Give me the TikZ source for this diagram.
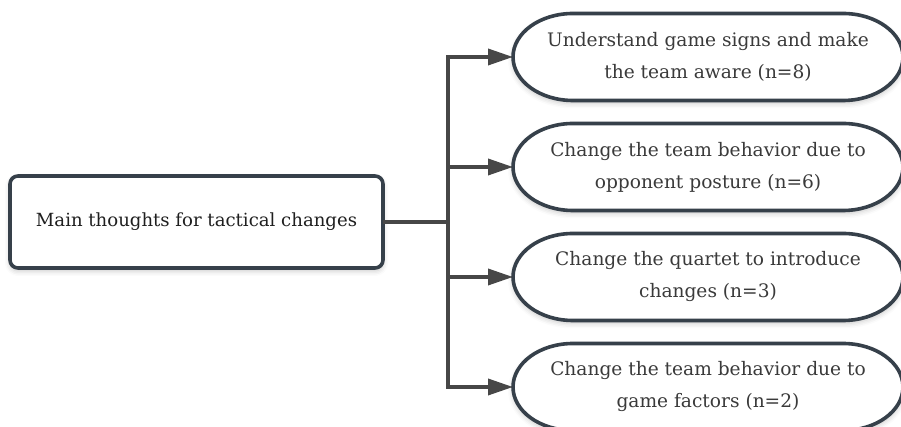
\documentclass[tikz,border=0pt]{standalone}
\usepackage{fontspec}
\setmainfont{DejaVu Serif}
\usetikzlibrary{arrows.meta,shadows.blur}
\definecolor{edge}{HTML}{36404A}
\definecolor{link}{HTML}{474747}
\definecolor{txt}{HTML}{3A3A3A}
\tikzset{
  x=1pt, y=1pt,
  soft/.style={blur shadow={shadow xshift=0pt, shadow yshift=-3pt, shadow blur radius=5pt, shadow opacity=22}},
  mainbox/.style={draw=edge, line width=3.6pt, rounded corners=8pt, fill=white, soft,
    minimum width=373pt, minimum height=92pt, inner sep=0pt, outer sep=0pt,
    font=\fontsize{18.1}{22}\selectfont, text=black!88},
  pilltext/.style={minimum width=390pt, minimum height=87pt, inner sep=0pt, outer sep=0pt,
    align=center, font=\fontsize{18.6}{32}\selectfont, text=txt},
  pill/.style={draw=edge, line width=3.6pt, fill=white, soft},
  link/.style={draw=link, line width=3.6pt},
  arr/.style={link, -{Triangle[length=25pt,width=16pt]}},
}
% rounded outline with elliptical ends around a text node
\newcommand\pillaround[1]{%
  \path[pill] ([xshift=60pt]#1.north west) -- ([xshift=-60pt]#1.north east)
    arc[start angle=90, end angle=-90, x radius=60pt, y radius=43.5pt]
    -- ([xshift=60pt]#1.south west)
    arc[start angle=270, end angle=90, x radius=60pt, y radius=43.5pt] -- cycle;}
\begin{document}
\begin{tikzpicture}
\useasboundingbox (0,0) rectangle (901,427);
\clip (0,0) rectangle (901,427);

\node[mainbox] (main) at (196.5,205) {Main thoughts for tactical changes};

% outcome nodes (outline drawn first, text on top)
\path (708,370) coordinate (c1) (708,260) coordinate (c2)
      (708,150) coordinate (c3) (708,40) coordinate (c4);
\node[pilltext] (e1) at (c1) {};
\node[pilltext] (e2) at (c2) {};
\node[pilltext] (e3) at (c3) {};
\node[pilltext] (e4) at (c4) {};
\pillaround{e1}\pillaround{e2}\pillaround{e3}\pillaround{e4}
\node[pilltext] at (e1) {Understand game signs and make\\the team aware (n=8)};
\node[pilltext] at (e2) {Change the team behavior due to\\opponent posture (n=6)};
\node[pilltext] at (e3) {Change the quartet to introduce\\changes (n=3)};
\node[pilltext] at (e4) {Change the team behavior due to\\game factors (n=2)};

% branching connector
\coordinate (split) at (448,205);
\coordinate (top) at (448,370);
\coordinate (bot) at (448,40);
\draw[link] (main.east) -- (split);
\draw[link] ([yshift=1.8pt]top) -- ([yshift=-1.8pt]bot);
\draw[arr] (top) -- (e1.west);
\draw[arr] (448,260) -- (e2.west);
\draw[arr] (448,150) -- (e3.west);
\draw[arr] (bot) -- (e4.west);
\end{tikzpicture}
\end{document}
